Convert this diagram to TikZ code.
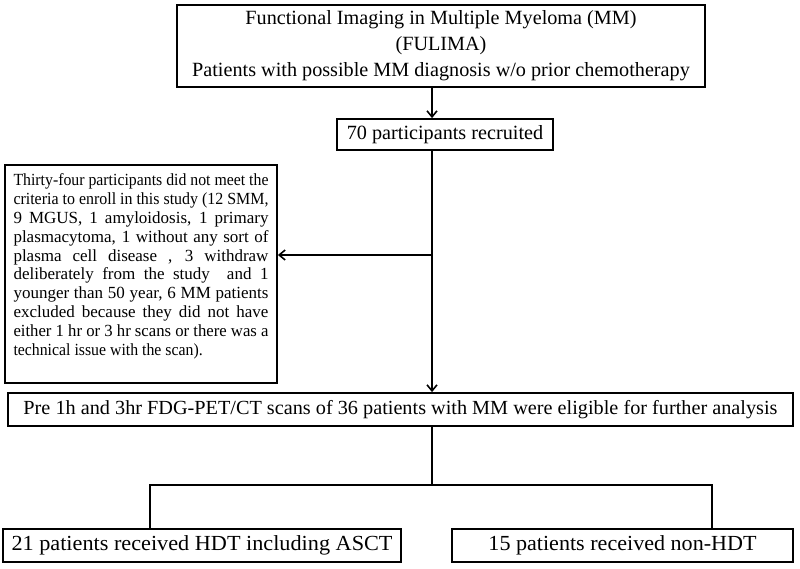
\documentclass[tikz,border=0pt]{standalone}
\usepackage{fontspec}
\usepackage{graphicx}
\setmainfont{Liberation Serif}
\usetikzlibrary{arrows.meta,calc}
\newsavebox\jlbox
\newcommand\jline[1]{\sbox\jlbox{#1}\ifdim\wd\jlbox>\linewidth\resizebox{\linewidth}{\height}{#1}\else\makebox[\linewidth][s]{#1}\fi\par}
\begin{document}
\begin{tikzpicture}[x=1pt,y=-1pt,
  box/.style={draw,line width=1.8pt,inner sep=0pt,align=center},
  conn/.style={line width=1.8pt},
  arr/.style={line width=1.8pt,-{Straight Barb[length=6pt,width=10pt,line width=1.6pt]}},
  bigf/.style={font=\fontsize{20.2}{26}\selectfont}]
\useasboundingbox (0,0) rectangle (800,569);

\node[box,bigf,minimum width=528pt,minimum height=82pt] (top) at (441,46)
  {Functional Imaging in Multiple Myeloma (MM)\\(FULIMA)\\Patients with possible MM diagnosis w/o prior chemotherapy};

\node[box,bigf,minimum width=216pt,minimum height=31pt] (recr) at (445,134.5)
  {70 participants recruited};

\node[box,minimum width=272pt,minimum height=218pt] (excl) at (141,274)
  {\parbox[c][200pt][t]{255pt}{\fontsize{17}{18.8}\selectfont
  \jline{Thirty-four participants did not meet the}
  \jline{criteria to enroll in this study (12 SMM,}
  \jline{9 MGUS, 1 amyloidosis, 1 primary}
  \jline{plasmacytoma, 1 without any sort of}
  \jline{plasma cell disease , 3 withdraw}
  \jline{deliberately from the study \ and 1}
  \jline{younger than 50 year, 6 MM patients}
  \jline{excluded because they did not have}
  \jline{either 1 hr or 3 hr scans or there was a}
  \resizebox{!}{\height}{\scalebox{0.93}[1]{technical issue with the scan).}}}};

\node[box,minimum width=785pt,minimum height=33pt,font=\fontsize{20}{24}\selectfont] (pre) at (400.5,409.5)
  {\resizebox{754pt}{\height}{Pre 1h and 3hr FDG-PET/CT scans of 36 patients with MM were eligible for further analysis}};

\node[box,minimum width=398pt,minimum height=33pt,font=\fontsize{21.5}{24}\selectfont] (hdt) at (202,545.5)
  {\resizebox{381pt}{\height}{21 patients received HDT including ASCT}};

\node[box,minimum width=341pt,minimum height=33pt,font=\fontsize{21.5}{24}\selectfont] (non) at (622.5,545.5)
  {\resizebox{268pt}{\height}{15 patients received non-HDT}};

\coordinate (sp) at (432,0);
\coordinate (ej) at (432,255);
\coordinate (br) at (432,485);
\coordinate (bl) at (150,485);
\coordinate (brr) at (712,485);

\draw[arr] (top.south -| sp) -- (recr.north -| sp);
\draw[arr] (recr.south -| sp) -- (pre.north -| sp);
\draw[arr] (ej) -- (ej -| excl.east);
\draw[conn] (pre.south -| sp) -- (br);
\draw[conn] (bl |- hdt.north) -- (bl) -- (brr) -- (brr |- non.north);
\end{tikzpicture}
\end{document}
